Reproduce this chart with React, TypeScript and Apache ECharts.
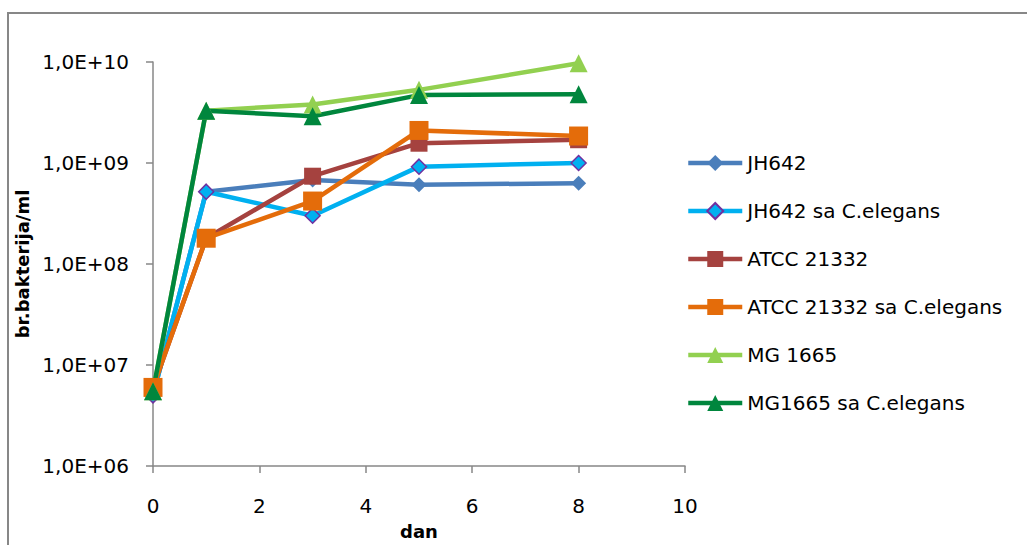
import React, { useEffect, useRef } from "react";
import * as echarts from "echarts";

const days = [0, 1, 3, 5, 8];
const seriesNames = [
  "JH642",
  "JH642 sa C.elegans",
  "ATCC 21332",
  "ATCC 21332 sa C.elegans",
  "MG 1665",
  "MG1665 sa C.elegans",
];
const jh642 = [5.0e6, 5.2e8, 6.8e8, 6.1e8, 6.3e8];
const jh642Ce = [5.0e6, 5.2e8, 3.0e8, 9.2e8, 1.0e9];
const atcc = [6.0e6, 1.8e8, 7.4e8, 1.57e9, 1.7e9];
const atccCe = [6.0e6, 1.8e8, 4.2e8, 2.1e9, 1.85e9];
const mg = [5.5e6, 3.3e9, 3.8e9, 5.3e9, 9.7e9];
const mgCe = [5.5e6, 3.3e9, 2.9e9, 4.7e9, 4.8e9];
const yTickLabels: Record<string, string> = {
  "1000000": "1,0E+06",
  "10000000": "1,0E+07",
  "100000000": "1,0E+08",
  "1000000000": "1,0E+09",
  "10000000000": "1,0E+10",
};

const FONT = "'DejaVu Sans', sans-serif";

export default function App() {
  const ref = useRef<HTMLDivElement>(null);
  useEffect(() => {
    if (!ref.current) return;
    const chart = echarts.init(ref.current, null, { renderer: "svg" });
    const values = [jh642, jh642Ce, atcc, atccCe, mg, mgCe];
    const colors = ["#4A7EBB", "#00B0F0", "#A5423F", "#E46C0A", "#92D050", "#00863D"];
    const symbols = ["diamond", "diamond", "rect", "rect", "triangle", "triangle"];
    const sizes = [15, 15, 17, 19, 18, 18];
    const borders = ["#4A7EBB", "#7030A0", "#A5423F", "#E46C0A", "#92D050", "#00863D"];
    chart.setOption({
      animation: false,
      textStyle: { fontFamily: FONT },
      graphic: [
        {
          type: "rect",
          shape: { x: 8, y: 13, width: 1200, height: 700 },
          style: { fill: "none", stroke: "#878787", lineWidth: 2 },
          silent: true,
        },
      ],
      grid: { left: 153, right: 342, top: 62, bottom: 78, containLabel: false },
      legend: {
        orient: "vertical",
        left: 681,
        top: 148,
        itemWidth: 54,
        itemHeight: 20,
        itemGap: 28,
        lineStyle: { width: 4.5 },
        textStyle: { fontSize: 20, color: "#000", fontFamily: FONT, lineHeight: 20 },
        data: seriesNames,
      },
      xAxis: {
        type: "value",
        min: 0,
        max: 10,
        interval: 2,
        name: "dan",
        nameLocation: "middle",
        nameGap: 56,
        nameTextStyle: { fontSize: 18, fontWeight: "bold", color: "#000", fontFamily: FONT },
        axisLine: { lineStyle: { color: "#878787", width: 1.5 } },
        axisTick: { show: true, length: 7, lineStyle: { color: "#878787", width: 1.5 } },
        axisLabel: { fontSize: 20, color: "#000", margin: 30, fontFamily: FONT },
        splitLine: { show: false },
      },
      yAxis: {
        type: "log",
        logBase: 10,
        min: 1e6,
        max: 1e10,
        name: "br.bakterija/ml",
        nameLocation: "middle",
        nameGap: 112,
        nameRotate: 90,
        nameTextStyle: { fontSize: 18, fontWeight: "bold", color: "#000", fontFamily: FONT },
        axisLine: { show: true, lineStyle: { color: "#878787", width: 1.5 } },
        axisTick: { show: true, length: 7, lineStyle: { color: "#878787", width: 1.5 } },
        axisLabel: {
          fontSize: 20,
          color: "#000",
          margin: 24,
          fontFamily: FONT,
          formatter: (v: number) => {
            const k = String(Math.round(v));
            return yTickLabels[k] ?? "";
          },
        },
        splitLine: { show: false },
      },
      series: seriesNames.map((name, i) => ({
        name,
        type: "line",
        data: days.map((d, j) => [d, values[i][j]]),
        symbol: symbols[i],
        symbolSize: sizes[i],
        showAllSymbol: true,
        lineStyle: { color: colors[i], width: 4.5 },
        itemStyle: { color: colors[i], borderColor: borders[i], borderWidth: i === 1 ? 1.5 : 0 },
        emphasis: { disabled: true },
      })),
    });
    return () => chart.dispose();
  }, []);
  return <div ref={ref} style={{ width: 1027, height: 545, position: "absolute", left: 0, top: 0 }} />;
}
